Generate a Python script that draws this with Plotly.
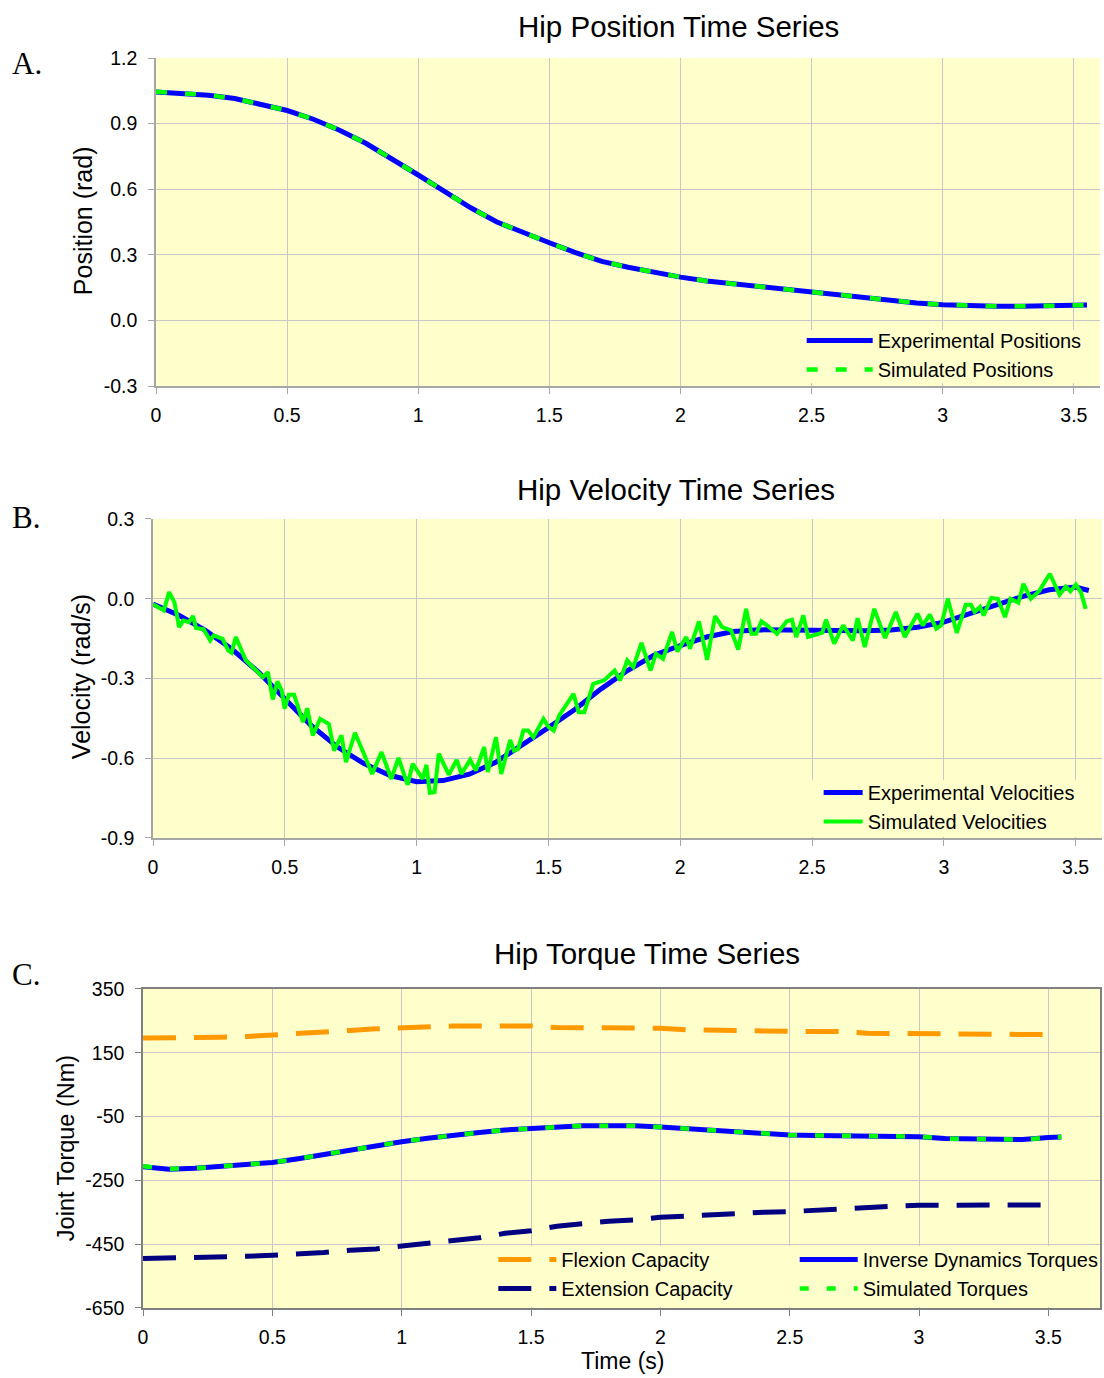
import plotly.graph_objects as go

W, H = 1104, 1378

# ---------------- data: Panel A (hip position, rad) ----------------
t_pos = [0.0, 0.1, 0.2, 0.3, 0.4, 0.5, 0.6, 0.7, 0.8, 0.9, 1.0, 1.1, 1.2, 1.3,
         1.4, 1.5, 1.6, 1.7, 1.8, 1.9, 2.0, 2.1, 2.2, 2.3, 2.4, 2.5, 2.6, 2.7,
         2.8, 2.9, 3.0, 3.1, 3.2, 3.3, 3.4, 3.5, 3.55]
pos_exp = [1.045, 1.04, 1.03, 1.015, 0.99, 0.96, 0.92, 0.87, 0.81, 0.74, 0.665,
           0.59, 0.515, 0.45, 0.40, 0.355, 0.31, 0.27, 0.243, 0.218, 0.198, 0.18,
           0.167, 0.154, 0.143, 0.13, 0.117, 0.102, 0.09, 0.08, 0.072, 0.066,
           0.065, 0.065, 0.065, 0.066, 0.07]
pos_sim = [1.046, 1.04, 1.03, 1.015, 0.99, 0.96, 0.92, 0.87, 0.81, 0.74, 0.665,
           0.59, 0.515, 0.45, 0.40, 0.355, 0.31, 0.27, 0.243, 0.218, 0.198, 0.18,
           0.167, 0.154, 0.143, 0.13, 0.117, 0.102, 0.09, 0.08, 0.072, 0.066,
           0.065, 0.065, 0.065, 0.066, 0.07]

# ---------------- data: Panel B (hip velocity, rad/s) ----------------
t_vel = t_pos
vel_exp = [-0.02, -0.063, -0.12, -0.19, -0.276, -0.376, -0.477, -0.558, -0.62,
           -0.665, -0.688, -0.684, -0.66, -0.615, -0.552, -0.485, -0.417, -0.339,
           -0.27, -0.213, -0.176, -0.144, -0.123, -0.117, -0.118, -0.12, -0.12,
           -0.12, -0.118, -0.107, -0.088, -0.056, -0.025, 0.009, 0.034, 0.044, 0.031]
t_vel_sim = [0.0, 0.041, 0.061, 0.081, 0.099, 0.115, 0.136, 0.152, 0.163, 0.192,
             0.217, 0.23, 0.264, 0.285, 0.298, 0.314, 0.352, 0.379, 0.417, 0.436,
             0.454, 0.472, 0.488, 0.499, 0.515, 0.535, 0.569, 0.585, 0.606, 0.634,
             0.667, 0.687, 0.715, 0.732, 0.766, 0.8, 0.831, 0.867, 0.904, 0.931,
             0.966, 0.985, 1.023, 1.037, 1.05, 1.068, 1.084, 1.122, 1.152, 1.17,
             1.203, 1.225, 1.256, 1.27, 1.301, 1.321, 1.355, 1.369, 1.385, 1.405,
             1.423, 1.443, 1.481, 1.501, 1.52, 1.541, 1.595, 1.615, 1.636, 1.67,
             1.711, 1.751, 1.772, 1.799, 1.822, 1.853, 1.887, 1.908, 1.935, 1.969,
             1.989, 2.023, 2.037, 2.071, 2.102, 2.132, 2.159, 2.193, 2.22, 2.25,
             2.27, 2.288, 2.308, 2.329, 2.367, 2.404, 2.424, 2.44, 2.467, 2.485,
             2.519, 2.539, 2.553, 2.584, 2.618, 2.655, 2.673, 2.7, 2.736, 2.777,
             2.818, 2.852, 2.9, 2.92, 2.947, 2.971, 2.99, 3.015, 3.049, 3.083,
             3.103, 3.117, 3.137, 3.151, 3.18, 3.205, 3.232, 3.253, 3.283, 3.302,
             3.33, 3.361, 3.402, 3.439, 3.463, 3.48, 3.501, 3.52, 3.538]
vel_sim = [-0.021, -0.044, 0.025, -0.013, -0.107, -0.082, -0.088, -0.065, -0.11,
           -0.115, -0.157, -0.138, -0.151, -0.194, -0.203, -0.144, -0.232, -0.257,
           -0.295, -0.276, -0.379, -0.311, -0.345, -0.414, -0.361, -0.361, -0.464,
           -0.412, -0.514, -0.452, -0.471, -0.571, -0.514, -0.615, -0.504, -0.583,
           -0.659, -0.577, -0.678, -0.599, -0.70, -0.621, -0.678, -0.625, -0.73,
           -0.728, -0.583, -0.662, -0.606, -0.659, -0.606, -0.646, -0.558, -0.652,
           -0.521, -0.659, -0.531, -0.571, -0.565, -0.496, -0.496, -0.521, -0.452,
           -0.483, -0.496, -0.439, -0.358, -0.427, -0.427, -0.32, -0.307, -0.27,
           -0.307, -0.232, -0.257, -0.166, -0.27, -0.207, -0.226, -0.125, -0.198,
           -0.144, -0.188, -0.085, -0.23, -0.065, -0.107, -0.119, -0.191, -0.038,
           -0.132, -0.132, -0.085, -0.10, -0.132, -0.085, -0.079, -0.144, -0.063,
           -0.144, -0.132, -0.128, -0.079, -0.169, -0.10, -0.157, -0.073, -0.182,
           -0.038, -0.148, -0.05, -0.144, -0.056, -0.10, -0.06, -0.113, -0.10,
           0.0, -0.128, -0.023, -0.023, -0.05, -0.031, -0.063, 0.003, 0.0, -0.069,
           0.0, -0.015, 0.056, 0.0, 0.028, 0.094, 0.015, 0.046, 0.028, 0.053,
           0.025, -0.038]

# ---------------- data: Panel C (hip torque, Nm) ----------------
t_tq = t_pos
tq_inv = [-207, -215, -212, -205, -200, -194, -182, -168, -155, -142, -129, -118,
          -108, -100, -92, -87, -83, -79, -79, -79, -83, -88, -94, -98, -102, -108,
          -109, -110, -113, -113, -113, -119, -119, -122, -122, -116, -114]
tq_sim = [-206, -214, -212, -205, -200, -194, -182, -168, -155, -142, -129, -118,
          -108, -100, -92, -87, -83, -79, -79, -79, -83, -88, -94, -98, -102, -108,
          -109, -110, -113, -113, -113, -119, -119, -122, -122, -116, -114]
t_cap = [0.0, 0.1, 0.2, 0.3, 0.4, 0.5, 0.6, 0.7, 0.8, 0.9, 1.0, 1.1, 1.2, 1.3,
         1.4, 1.5, 1.6, 1.7, 1.8, 1.9, 2.0, 2.1, 2.2, 2.3, 2.4, 2.5, 2.6, 2.7,
         2.8, 2.9, 3.0, 3.1, 3.2, 3.3, 3.4, 3.48]
flex_cap = [196, 196, 197, 199, 201, 205, 209, 216, 220, 225, 229, 233, 234, 234,
            234, 234, 229, 229, 228, 228, 227, 222, 220, 220, 219, 217, 217, 217,
            211, 210, 210, 207, 207, 207, 207, 207]
ext_cap = [-495, -494, -493, -492, -488, -485, -482, -476, -469, -465, -456, -448,
           -441, -430, -416, -408, -394, -386, -378, -374, -366, -362, -357, -354,
           -350, -348, -343, -339, -335, -331, -328, -327, -327, -327, -327, -327]

# tick labels
x_ticks = [0, 0.5, 1, 1.5, 2, 2.5, 3, 3.5]
x_ticktext = ["0", "0.5", "1", "1.5", "2", "2.5", "3", "3.5"]
pos_ticks = [-0.3, 0.0, 0.3, 0.6, 0.9, 1.2]
pos_ticktext = ["-0.3", "0.0", "0.3", "0.6", "0.9", "1.2"]
vel_ticks = [-0.9, -0.6, -0.3, 0.0, 0.3]
vel_ticktext = ["-0.9", "-0.6", "-0.3", "0.0", "0.3"]
tq_ticks = [-650, -450, -250, -50, 150, 350]
tq_ticktext = ["-650", "-450", "-250", "-50", "150", "350"]

# ---------------- styling ----------------
SANS = "Liberation Sans, Arial, sans-serif"
SERIF = "Liberation Serif, Times New Roman, serif"
YEL = "#FFFFCC"
GRID = "#C8C8C8"
BLUE = "#0000FF"
GREEN = "#00FF00"
ORANGE = "#FF9900"
NAVY = "#000080"
CLEAR = "rgba(0,0,0,0)"


# photographed-page pixel -> figure pixel (measured page offset/scale)
def PX(x):
    return (x - 4.67) / 0.9957


def PY(y):
    return (y - 10.97) / 0.9841


def xd(a, b):
    return [max(0.0, PX(a) / W), min(1.0, PX(b) / W)]


def yd(top, bottom):
    return [1 - PY(bottom) / H, 1 - PY(top) / H]


fig = go.Figure()

# Panel A
fig.add_trace(go.Scatter(x=t_pos, y=pos_exp, mode="lines", name="Experimental Positions",
                         line=dict(color=BLUE, width=5), xaxis="x", yaxis="y", legend="legend"))
fig.add_trace(go.Scatter(x=t_pos, y=pos_sim, mode="lines", name="Simulated Positions",
                         line=dict(color=GREEN, width=4.5, dash="11px,18px"),
                         xaxis="x", yaxis="y", legend="legend"))
# Panel B
fig.add_trace(go.Scatter(x=t_vel, y=vel_exp, mode="lines", name="Experimental Velocities",
                         line=dict(color=BLUE, width=5), xaxis="x2", yaxis="y2", legend="legend2"))
fig.add_trace(go.Scatter(x=t_vel_sim, y=vel_sim, mode="lines", name="Simulated Velocities",
                         line=dict(color=GREEN, width=4), xaxis="x2", yaxis="y2", legend="legend2"))
# Panel C
fig.add_trace(go.Scatter(x=t_cap, y=flex_cap, mode="lines", name="Flexion Capacity",
                         line=dict(color=ORANGE, width=5, dash="33px,18px"),
                         xaxis="x3", yaxis="y3", legend="legend3"))
fig.add_trace(go.Scatter(x=t_tq, y=tq_inv, mode="lines", name="Inverse Dynamics Torques",
                         line=dict(color=BLUE, width=5), xaxis="x3", yaxis="y3", legend="legend4"))
fig.add_trace(go.Scatter(x=t_cap, y=ext_cap, mode="lines", name="Extension Capacity",
                         line=dict(color=NAVY, width=5, dash="33px,18px"),
                         xaxis="x3", yaxis="y3", legend="legend3"))
fig.add_trace(go.Scatter(x=t_tq, y=tq_sim, mode="lines", name="Simulated Torques",
                         line=dict(color=GREEN, width=4.5, dash="9px,18px"),
                         xaxis="x3", yaxis="y3", legend="legend4"))

tickfont = dict(family=SANS, size=19.5, color="black")
common_x = dict(tickvals=x_ticks, ticktext=x_ticktext, showgrid=True, gridcolor=GRID,
                gridwidth=1, zeroline=False, showline=True, linewidth=1.5,
                ticks="outside", ticklen=6, tickfont=tickfont, ticklabelstandoff=5)
common_y = dict(showgrid=True, gridcolor=GRID, gridwidth=1, zeroline=False,
                showline=True, linewidth=1.5, ticks="outside",
                ticklen=6, tickfont=tickfont, ticklabelstandoff=7)
lightline = dict(linecolor="#A6A6A6", tickcolor="#A6A6A6")
darkline = dict(linecolor="#808080", tickcolor="#808080", mirror=True)

legfont = dict(family=SANS, size=20, color="black")


def leg(x, y, iw):
    return dict(x=PX(x) / W, y=1 - PY(y) / H, xanchor="left", yanchor="top",
                bgcolor=CLEAR, font=legfont, itemwidth=iw, tracegroupgap=0)


fig.update_layout(
    width=W, height=H, margin=dict(l=0, r=0, t=0, b=0),
    paper_bgcolor="white", plot_bgcolor=YEL, showlegend=True,
    xaxis=dict(domain=xd(156, 1102), range=[0, 3.6], anchor="y", **common_x, **lightline),
    yaxis=dict(domain=yd(58, 386), range=[-0.3, 1.2], anchor="x",
               tickvals=pos_ticks, ticktext=pos_ticktext, **common_y, **lightline),
    xaxis2=dict(domain=xd(153, 1104), range=[0, 3.6], anchor="y2", **common_x, **lightline),
    yaxis2=dict(domain=yd(519, 838), range=[-0.9, 0.3], anchor="x2",
                tickvals=vel_ticks, ticktext=vel_ticktext, **common_y, **lightline),
    xaxis3=dict(domain=xd(143, 1102), range=[0, 3.7], anchor="y3", **common_x, **darkline),
    yaxis3=dict(domain=yd(989, 1308), range=[-650, 350], anchor="x3",
                tickvals=tq_ticks, ticktext=tq_ticktext, **common_y, **darkline),
    legend=leg(803, 321, 66),
    legend2=leg(820, 773, 39),
    legend3=leg(494, 1240, 58),
    legend4=leg(796, 1240, 58),
)

# legend background panels (cover the grid like the original legend boxes)
for (x0, y0, x1, y1) in [(800, 330, 1101, 383), (812, 780, 1104, 837), (495, 1246, 1101, 1307)]:
    fig.add_shape(type="rect", xref="paper", yref="paper",
                  x0=PX(x0) / W, x1=min(1.0, PX(x1) / W), y0=1 - PY(y1) / H, y1=1 - PY(y0) / H,
                  fillcolor=YEL, line=dict(width=0), layer="above")


def ann(text, px, py, size, family=SANS, xanchor="center", angle=0):
    fig.add_annotation(text=text, x=PX(px) / W, y=1 - PY(py) / H, xref="paper", yref="paper",
                       showarrow=False, xanchor=xanchor, yanchor="middle", textangle=angle,
                       font=dict(family=family, size=size, color="black"))


ann("Hip Position Time Series", 680, 26, 29.5)
ann("Hip Velocity Time Series", 677, 490, 29.5)
ann("Hip Torque Time Series", 648, 954, 29.5)
ann("A.", 10, 63, 31, SERIF, "left")
ann("B.", 10, 518, 31, SERIF, "left")
ann("C.", 10, 975, 31, SERIF, "left")
ann("Position (rad)", 83, 221, 25, angle=-90)
ann("Velocity (rad/s)", 81, 677, 25, angle=-90)
ann("Joint Torque (Nm)", 66, 1148, 23.5, angle=-90)
ann("Time (s)", 623, 1361, 23)

fig.write_html("out.html")
